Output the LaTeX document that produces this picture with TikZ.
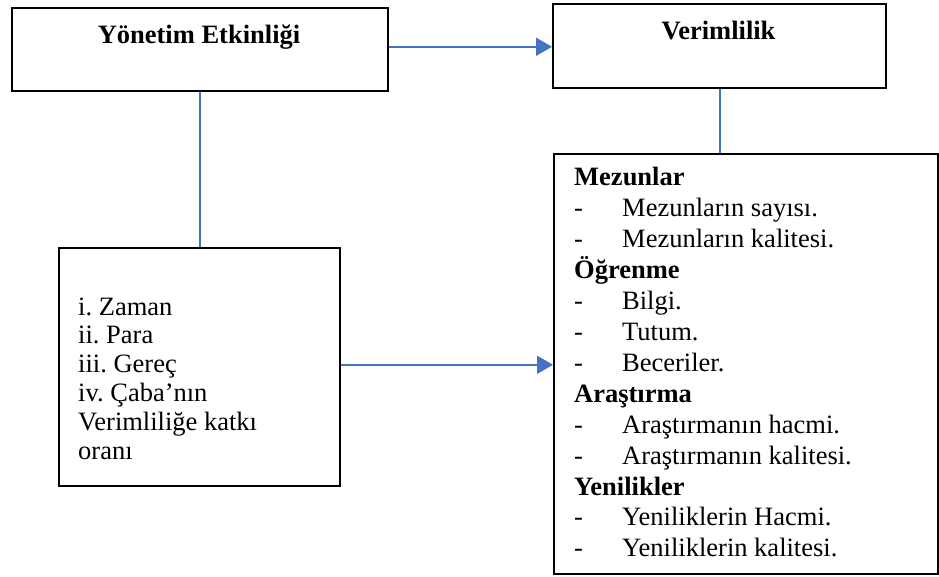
\documentclass[tikz,border=0pt]{standalone}
\usepackage{fontspec}
\setmainfont{Liberation Serif}
\usetikzlibrary{arrows.meta}
\definecolor{conn}{HTML}{4472C4}
\frenchspacing
\tikzset{
  box/.style={draw=black, line width=1.6pt, inner sep=0pt, anchor=north west},
  txt/.style={anchor=base west, inner sep=0pt, font=\fontsize{26.5}{30}\selectfont},
  hb/.style={font=\fontsize{26.5}{30}\selectfont\bfseries},
  hd/.style={execute at begin node={\makebox[48pt][l]{-}}},
  ttl/.style={anchor=base, inner sep=0pt, font=\fontsize{26.5}{30}\selectfont\bfseries},
  link/.style={draw=conn, line width=1.8pt},
  arr/.style={link, -{Triangle[length=16pt,width=18pt]}},
}
\begin{document}
\begin{tikzpicture}[x=1pt,y=-1pt]
\useasboundingbox (0,0) rectangle (939,577);
% boxes
\node[box, minimum width=376pt, minimum height=83pt] (ye) at (11,7) {};
\node[box, minimum width=333pt, minimum height=84pt] (ve) at (552,3) {};
\node[box, minimum width=384pt, minimum height=420pt] (vr) at (553,153) {};
\node[box, minimum width=281pt, minimum height=238pt] (ex) at (58,247) {};
% titles
\node[ttl] (yt) at (199,44) {Yönetim Etkinliği};
\node[ttl] (vt) at (718.5,40) {Verimlilik};
% left box text
\foreach \t [count=\i from 0] in {i. Zaman, ii. Para, iii. Gereç, iv. Çaba’nın, Verimliliğe katkı, oranı}{
  \node[txt] (l\i) at (78,315+28.8*\i) {\t};
}
% right box text
\foreach \k/\t [count=\i from 0] in {hb/Mezunlar, hd/Mezunların sayısı., hd/Mezunların kalitesi., hb/Öğrenme, hd/Bilgi., hd/Tutum., hd/Beceriler., hb/Araştırma, hd/Araştırmanın hacmi., hd/Araştırmanın kalitesi., hb/Yenilikler, hd/Yeniliklerin Hacmi., hd/Yeniliklerin kalitesi.}{
  \node[txt, \k] (r\i) at (574,186+30.9*\i) {\t};
}
% connectors
\draw[arr] ([yshift=2.5pt]ye.east) -- ([yshift=2.5pt]ye.east -| ve.west);
\draw[link] (ye.south) -- (ye.south |- ex.north);
\draw[link] ([xshift=0.5pt]ve.south) -- ([xshift=0.5pt]ve.south |- vr.north);
\draw[arr] ([yshift=2pt]ex.east) -- ([yshift=2pt]ex.east -| vr.west);
\end{tikzpicture}
\end{document}
